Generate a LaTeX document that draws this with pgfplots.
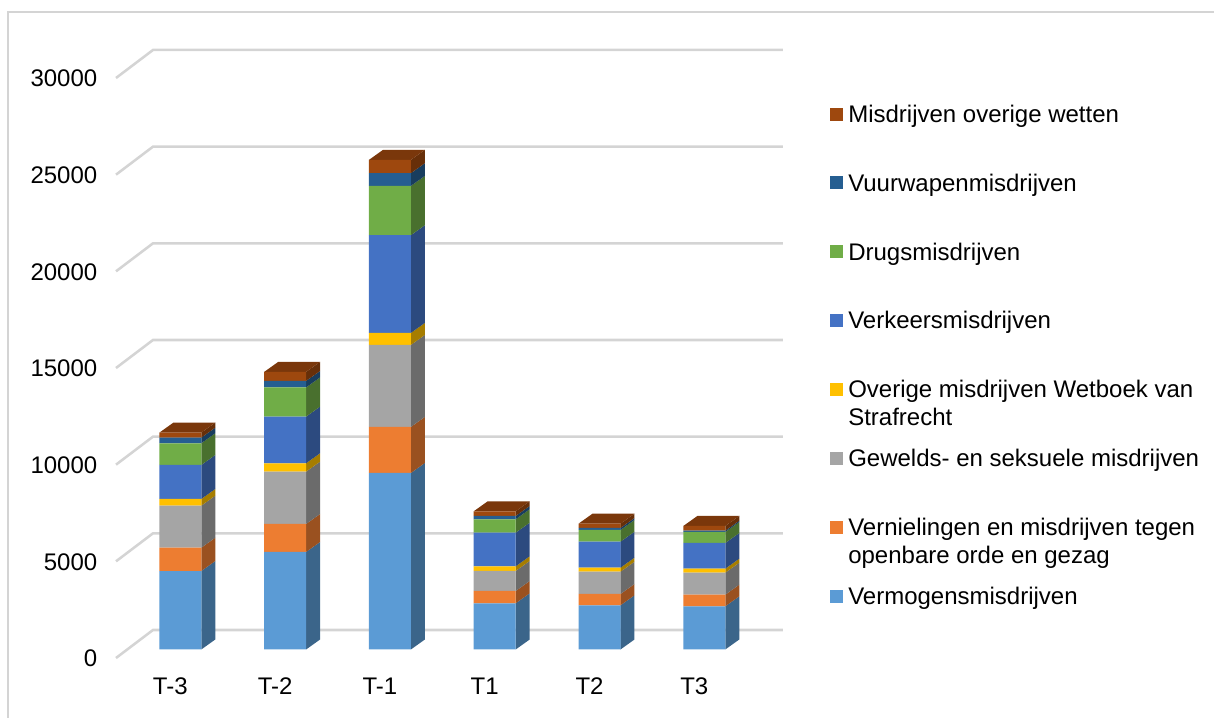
\documentclass[border=0pt]{standalone}
\usepackage{pgfplots}
\usepackage{pgfplotstable}
\usepackage{fontspec}
\setmainfont{Liberation Sans}
\pgfplotsset{compat=1.18}

\definecolor{cA}{HTML}{5B9BD5}\definecolor{cB}{HTML}{ED7D31}\definecolor{cC}{HTML}{A5A5A5}\definecolor{cD}{HTML}{FFC000}
\definecolor{cE}{HTML}{4472C4}\definecolor{cF}{HTML}{70AD47}\definecolor{cG}{HTML}{255E91}\definecolor{cH}{HTML}{9E480E}
\definecolor{sA}{HTML}{3B658A}\definecolor{sB}{HTML}{9A5120}\definecolor{sC}{HTML}{6B6B6B}\definecolor{sD}{HTML}{A67D00}
\definecolor{sE}{HTML}{2C4A7F}\definecolor{sF}{HTML}{49702E}\definecolor{sG}{HTML}{183D5E}\definecolor{sH}{HTML}{672F09}
\definecolor{tH}{HTML}{7A370B}
\definecolor{gridc}{HTML}{D4D4D4}

% x unit: 104.8 px per category; depth of a column: 14 px right, 10 px up
\def\dx{0.1336}\def\dy{517}
\newcommand\sideface[4]{% x, low, high, colour
  \pgfmathsetmacro\xa{#1+0.2}\pgfmathsetmacro\xb{#1+0.2+\dx}%
  \edef\ya{\the\numexpr#2+\dy\relax}\edef\yb{\the\numexpr#3+\dy\relax}%
  \edef\tmp{\noexpand\addplot[fill=#4,draw=none,forget plot] coordinates {(\xa,#2) (\xb,\ya) (\xb,\yb) (\xa,#3) (\xa,#2)};}\tmp}
\newcommand\topface[2]{% x, total
  \pgfmathsetmacro\xa{#1-0.2}\pgfmathsetmacro\xb{#1+0.2}\pgfmathsetmacro\xc{#1+0.2+\dx}\pgfmathsetmacro\xd{#1-0.2+\dx}%
  \edef\yb{\the\numexpr#2+\dy\relax}%
  \edef\tmp{\noexpand\addplot[fill=tH,draw=none,forget plot] coordinates {(\xa,#2) (\xb,#2) (\xc,\yb) (\xd,\yb) (\xa,#2)};}\tmp}
\newcommand\column[9]{% x, eight cumulative tops
  \sideface{#1}{0}{#2}{sA}\sideface{#1}{#2}{#3}{sB}\sideface{#1}{#3}{#4}{sC}\sideface{#1}{#4}{#5}{sD}%
  \sideface{#1}{#5}{#6}{sE}\sideface{#1}{#6}{#7}{sF}\sideface{#1}{#7}{#8}{sG}\sideface{#1}{#8}{#9}{sH}%
  \topface{#1}{#9}}
\newcommand\gridl[1]{% grid value
  \edef\yf{\the\numexpr#1-440\relax}\edef\yk{\the\numexpr#1+1009\relax}%
  \edef\tmp{\noexpand\addplot[gridc,line width=1.9pt,forget plot] coordinates {(-0.6135,\yf) (-0.2605,\yk) (5.7507,\yk)};}\tmp}

\pgfplotstableread{
x  Verm Vern Gew  Ov  Verk Drugs Vuur Mis
0  4060 1206 2173 347 1759 1122  290  259
1  5044 1448 2706 435 2410 1511  336  466
2  9131 2380 4242 620 5055 2550  657  688
3  2390  636 1035 243 1738  694  170  243
4  2287  584 1154 207 1345  605  104  222
5  2235  600 1138 207 1329  570   67  243
}\crimes

\pgfplotsset{base/.style={
  scale only axis,width=910.5pt,height=538.5pt,
  xmin=-1.7204,xmax=9.8635,ymin=-3543,ymax=33595,
}}
\newcommand\LE[1]{\parbox[t]{270pt}{\raggedright\strut #1}}
\begin{document}
\begin{tikzpicture}
\begin{axis}[base,hide axis]
\draw[color=gridc,line width=1.5pt] (rel axis cs:1,0.9833) -- (rel axis cs:0.00659,0.9833) -- (rel axis cs:0.00659,0);
\gridl{0}\gridl{5000}\gridl{10000}\gridl{15000}\gridl{20000}\gridl{25000}\gridl{30000}
\column{0}{4060}{5266}{7439}{7786}{9545}{10667}{10957}{11216}
\column{1}{5044}{6492}{9198}{9633}{12043}{13554}{13890}{14356}
\column{2}{9131}{11511}{15753}{16373}{21428}{23978}{24635}{25323}
\column{3}{2390}{3026}{4061}{4304}{6042}{6736}{6906}{7149}
\column{4}{2287}{2871}{4025}{4232}{5577}{6182}{6286}{6508}
\column{5}{2235}{2835}{3973}{4180}{5509}{6079}{6146}{6389}
\end{axis}
\begin{axis}[base,ybar stacked,bar width=31.5pt,
  axis line style={draw=none},tick style={draw=none},
  xtick={0,1,2,3,4,5},xticklabels={T-3,T-2,T-1,T1,T2,T3},
  ytick={0,5000,10000,15000,20000,25000,30000},
  scaled y ticks=false,
  /pgf/number format/1000 sep={},
  /pgf/number format/assume math mode=true,
  tick label style={font=\fontsize{18}{21}\selectfont},
  y tick label style={xshift=76.5pt,yshift=-6.9pt},
  x tick label style={xshift=-7.5pt,yshift=33.75pt},
  reverse legend,
  legend cell align=left,
  legend style={draw=none,fill=none,at={(0.6837,0.8572)},anchor=north west,
    font=\fontsize{18}{21}\selectfont,row sep=35.45pt,inner sep=0pt,
    nodes={inner sep=0pt}},
  legend image code/.code={\path (13.5pt,0pt); \fill[#1] (0pt,-5.25pt) rectangle (9.75pt,4.5pt);},
]
\addplot[fill=cA,draw=none] table[x=x,y=Verm]{\crimes};
\addplot[fill=cB,draw=none] table[x=x,y=Vern]{\crimes};
\addplot[fill=cC,draw=none] table[x=x,y=Gew]{\crimes};
\addplot[fill=cD,draw=none] table[x=x,y=Ov]{\crimes};
\addplot[fill=cE,draw=none] table[x=x,y=Verk]{\crimes};
\addplot[fill=cF,draw=none] table[x=x,y=Drugs]{\crimes};
\addplot[fill=cG,draw=none] table[x=x,y=Vuur]{\crimes};
\addplot[fill=cH,draw=none] table[x=x,y=Mis]{\crimes};
\addlegendentry{\LE{Vermogensmisdrijven}}
\addlegendentry{\LE{Vernielingen en misdrijven tegen\\openbare orde en gezag}}
\addlegendentry{\LE{Gewelds- en seksuele misdrijven}}
\addlegendentry{\LE{Overige misdrijven Wetboek van\\Strafrecht}}
\addlegendentry{\LE{Verkeersmisdrijven}}
\addlegendentry{\LE{Drugsmisdrijven}}
\addlegendentry{\LE{Vuurwapenmisdrijven}}
\addlegendentry{\LE{Misdrijven overige wetten}}
\end{axis}
\end{tikzpicture}
\end{document}
